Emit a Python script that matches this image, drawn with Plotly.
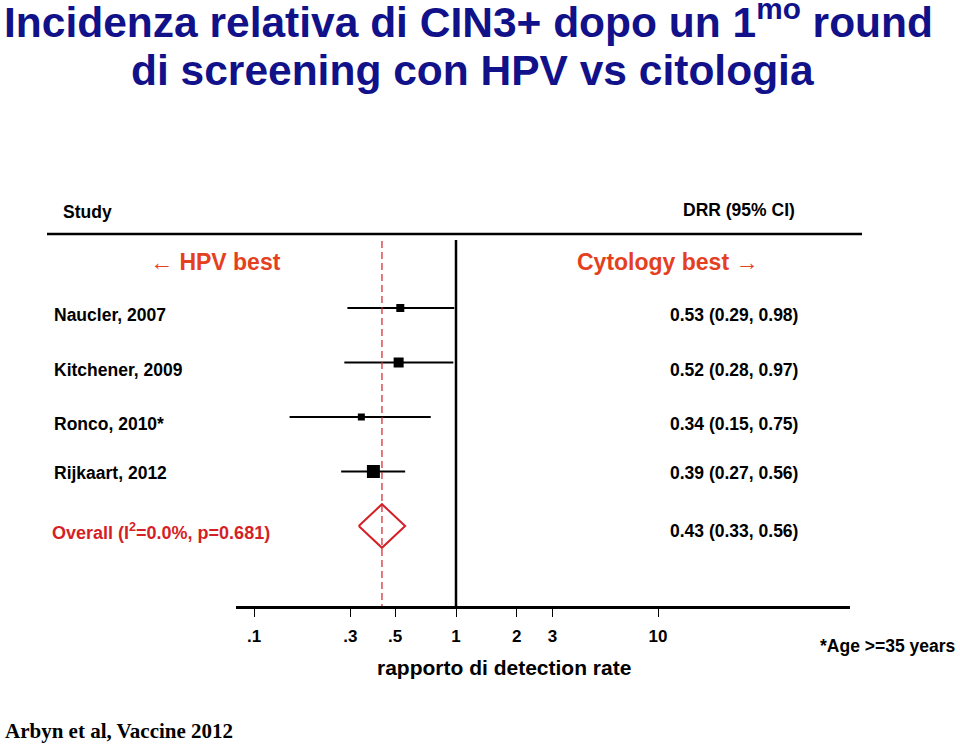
import plotly.graph_objects as go

# ---- data -------------------------------------------------------------
studies = ["Naucler, 2007", "Kitchener, 2009", "Ronco, 2010*", "Rijkaart, 2012"]
drr = [0.53, 0.52, 0.34, 0.39]
ci_low = [0.29, 0.28, 0.15, 0.27]
ci_high = [0.98, 0.97, 0.75, 0.56]
weights = [8, 10, 7, 13]          # marker size (study weight)

overall_label = "Overall (I<sup>2</sup>=0.0%, p=0.681)"
overall_drr = 0.43
overall_low = 0.33
overall_high = 0.56

tick_vals = [0.1, 0.3, 0.5, 1, 2, 3, 10]
tick_text = [".1", ".3", ".5", "1", "2", "3", "10"]

# ---- geometry helpers (window pixels) ----------------------------------
W, H = 960, 744
def px(x):
    return x / W
def py(y):
    return 1 - y / H

NAVY = "#11118a"
ORANGE = "#e4401e"
RED = "#d51f26"
FONT = "Liberation Sans, Arial, sans-serif"

fig = go.Figure()
rows = list(range(len(studies)))
overall_row = len(studies)

# CI whiskers
for i in rows:
    fig.add_trace(go.Scatter(
        x=[ci_low[i], ci_high[i]], y=[i, i], mode="lines",
        line=dict(color="black", width=2), showlegend=False, hoverinfo="skip"))

# point estimates
fig.add_trace(go.Scatter(
    x=drr, y=rows, mode="markers",
    marker=dict(symbol="square", color="black", size=weights, opacity=1, line=dict(width=0)),
    showlegend=False))

# overall diamond
fig.add_trace(go.Scatter(
    x=[overall_low, overall_drr, overall_high, overall_drr, overall_low],
    y=[overall_row, overall_row - 0.4, overall_row, overall_row + 0.4, overall_row],
    mode="lines", line=dict(color=RED, width=2), showlegend=False, hoverinfo="skip"))

# null line and overall dashed line
fig.add_trace(go.Scatter(
    x=[1, 1], y=[-1.25, 5.47], mode="lines",
    line=dict(color="black", width=2.5), showlegend=False, hoverinfo="skip"))
fig.add_trace(go.Scatter(
    x=[overall_drr, overall_drr], y=[-1.23, 5.47], mode="lines",
    line=dict(color=RED, width=1.2, dash="7px,4px"), showlegend=False, hoverinfo="skip"))

# top rule
fig.add_shape(type="line", xref="paper", yref="paper",
              x0=px(47), x1=px(862), y0=py(234), y1=py(234),
              line=dict(color="black", width=2.5))

ann = []
def text(x, y, s, size, color="black", anchor="left", bold=True, family=FONT, yanchor="middle"):
    ann.append(dict(x=px(x), y=py(y), xref="paper", yref="paper",
                    text=f"<b>{s}</b>" if bold else s, showarrow=False,
                    xanchor=anchor, yanchor=yanchor,
                    font=dict(size=size, color=color, family=family)))

text(468, -10, "Incidenza relativa di CIN3+ dopo un 1<sup>mo</sup> round", 42.5, NAVY, "center", yanchor="top")
text(472, 70, "di screening con HPV vs citologia", 42.5, NAVY, "center")

text(61, 212, "Study", 17.5)
text(681, 210, "DRR (95% CI)", 17.5)
text(148, 262, "← HPV best", 23, ORANGE)
text(575, 262, "Cytology best →", 23, ORANGE)

row_y = [315, 370, 424, 473]
for i, s in enumerate(studies):
    text(52, row_y[i], s, 17.5)
    text(668, row_y[i], f"{drr[i]:.2f} ({ci_low[i]:.2f}, {ci_high[i]:.2f})", 17.5)

text(50, 531, overall_label, 18, RED)
text(668, 531, f"{overall_drr:.2f} ({overall_low:.2f}, {overall_high:.2f})", 17.5)

text(504, 667, "rapporto di detection rate", 21, anchor="center")
text(818, 646, "*Age >=35 years", 17.5)
text(3, 731, "Arbyn et al, Vaccine 2012", 21, family="Liberation Serif, Times New Roman, serif")

# log axis: 202 px per decade, 1.0 at window pixel 456
x0_px, x1_px = 236, 850
y_axis_px = 606
fig.update_layout(
    width=W, height=H,
    margin=dict(l=0, r=0, t=0, b=0),
    paper_bgcolor="white", plot_bgcolor="white",
    annotations=ann,
    xaxis=dict(
        type="log", domain=[px(x0_px), px(x1_px)],
        range=[(x0_px - 456) / 202, (x1_px - 456) / 202],
        tickvals=tick_vals, ticktext=[f"<b>{t}</b>" for t in tick_text],
        ticks="outside", ticklen=8, tickwidth=1, tickcolor="black",
        tickfont=dict(size=17, color="black", family=FONT),
        ticklabelstandoff=5,
        showline=True, linecolor="black", linewidth=2.5,
        showgrid=False, zeroline=False,
    ),
    yaxis=dict(
        domain=[py(y_axis_px), 1],
        range=[(y_axis_px - 308) / 54.5, -308 / 54.5],
        showticklabels=False, showgrid=False, zeroline=False, ticks="",
    ),
)

# drop the default 8px body margin so the figure fills the window
fig.write_html("out.html", config={"displayModeBar": False},
               post_script="document.body.style.margin='0';document.body.style.overflow='hidden';")
